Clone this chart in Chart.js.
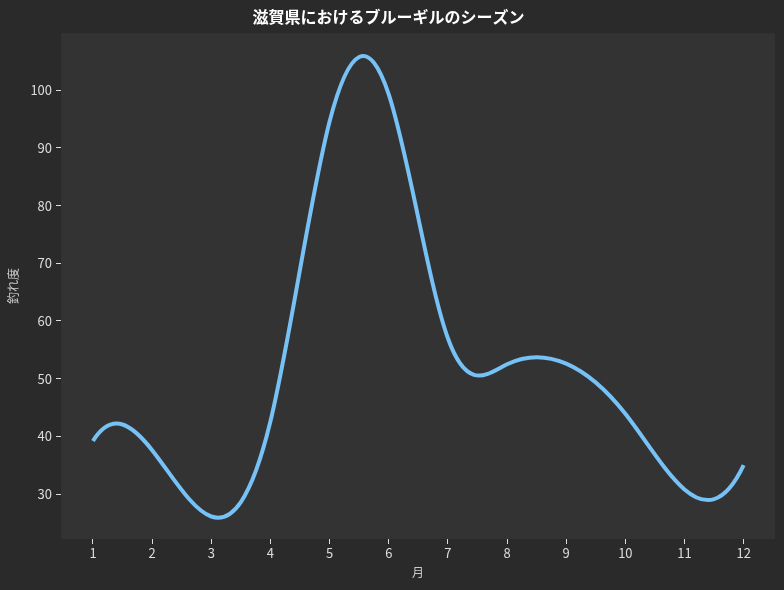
<!DOCTYPE html>
<html>
<head>
<meta charset="utf-8">
<script src="https://cdn.jsdelivr.net/npm/chart.js@4.4.1/dist/chart.umd.min.js"></script>
<style>
  html, body { margin: 0; padding: 0; background: #2a2a2a; }
  #wrap { width: 784px; height: 590px; }
</style>
</head>
<body>
<div id="wrap"><canvas id="chart"></canvas></div>
<script>
// data
var months = [1, 2, 3, 4, 5, 6, 7, 8, 9, 10, 11, 12];
var catchScore = [39.2, 37.6, 26.1, 42.6, 94.6, 99.3, 57.0, 52.5, 52.6, 43.9, 30.8, 35.0];
var yTicks = [30, 40, 50, 60, 70, 80, 90, 100];

var fontFamily = "'Liberation Sans Narrow', 'Noto Sans CJK JP', sans-serif";

// slopes of a not-a-knot cubic spline through the points (unit spacing)
function splineSlopes(y) {
    var n = y.length;
    var A = [], b = [];
    for (var i = 0; i < n; i++) {
        A.push(new Array(n).fill(0));
        b.push(0);
    }
    A[0][0] = 1; A[0][1] = -2; A[0][2] = 1;
    for (var i = 1; i < n - 1; i++) {
        A[i][i - 1] = 1; A[i][i] = 4; A[i][i + 1] = 1;
        b[i] = 6 * (y[i + 1] - 2 * y[i] + y[i - 1]);
    }
    A[n - 1][n - 3] = 1; A[n - 1][n - 2] = -2; A[n - 1][n - 1] = 1;
    // gaussian elimination
    for (var c = 0; c < n; c++) {
        var p = c;
        for (var r = c + 1; r < n; r++) if (Math.abs(A[r][c]) > Math.abs(A[p][c])) p = r;
        var t = A[c]; A[c] = A[p]; A[p] = t;
        var tb = b[c]; b[c] = b[p]; b[p] = tb;
        for (var r = c + 1; r < n; r++) {
            var f = A[r][c] / A[c][c];
            for (var k = c; k < n; k++) A[r][k] -= f * A[c][k];
            b[r] -= f * b[c];
        }
    }
    var M = new Array(n).fill(0);
    for (var r = n - 1; r >= 0; r--) {
        var s = b[r];
        for (var k = r + 1; k < n; k++) s -= A[r][k] * M[k];
        M[r] = s / A[r][r];
    }
    var m = [];
    for (var i = 0; i < n - 1; i++) m.push((y[i + 1] - y[i]) - (2 * M[i] + M[i + 1]) / 6);
    m.push((y[n - 1] - y[n - 2]) + (M[n - 2] + 2 * M[n - 1]) / 6);
    return m;
}

var slopes = splineSlopes(catchScore);

var splinePlugin = {
    id: 'splinePlugin',
    beforeDatasetDraw: function (chart, args) {
        var meta = args.meta;
        var line = meta.dataset;
        line.updateControlPoints(chart.chartArea, 'x');
        var xs = chart.scales.x, ys = chart.scales.y;
        meta.data.forEach(function (pt, i) {
            var x = months[i], y = catchScore[i], m = slopes[i];
            pt.cp1x = xs.getPixelForValue(x - 1 / 3);
            pt.cp1y = ys.getPixelForValue(y - m / 3);
            pt.cp2x = xs.getPixelForValue(x + 1 / 3);
            pt.cp2y = ys.getPixelForValue(y + m / 3);
        });
        line._path = undefined;
    }
};

var bgPlugin = {
    id: 'bgPlugin',
    beforeDraw: function (chart) {
        var c = chart.ctx, a = chart.chartArea;
        c.save();
        c.fillStyle = '#2a2a2a';
        c.fillRect(0, 0, chart.width, chart.height);
        c.fillStyle = '#333333';
        c.fillRect(a.left, a.top, a.right - a.left, a.bottom - a.top);
        c.restore();
    }
};

var ctx = document.getElementById('chart');
var myChart = new Chart(ctx, {
    type: 'line',
    data: {
        datasets: [{
            label: '釣れ度',
            data: months.map(function (m, i) { return { x: m, y: catchScore[i] }; }),
            borderColor: '#76c1f5',
            borderWidth: 4,
            tension: 0.4,
            pointRadius: 0,
            fill: false
        }]
    },
    options: {
        responsive: true,
        maintainAspectRatio: false,
        animation: false,
        layout: { padding: { left: 2, right: 9, top: 2, bottom: 6 } },
        plugins: {
            legend: { display: false },
            tooltip: { enabled: false },
            title: {
                display: true,
                text: '滋賀県におけるブルーギルのシーズン',
                color: '#ffffff',
                font: { family: fontFamily, size: 16, weight: 'bold' },
                padding: { top: 5, bottom: 7 }
            }
        },
        scales: {
            x: {
                type: 'linear',
                min: 0.46,
                max: 12.53,
                afterBuildTicks: function (s) { s.ticks = months.map(function (v) { return { value: v }; }); },
                ticks: { color: '#dddddd', font: { family: fontFamily, size: 13 }, padding: 1, maxRotation: 0 },
                grid: { drawOnChartArea: false, drawTicks: true, tickLength: 5, tickColor: '#dddddd', tickWidth: 1 },
                border: { display: false },
                title: { display: true, text: '月', color: '#cccccc', font: { family: fontFamily, size: 12 }, padding: { top: 4 } }
            },
            y: {
                type: 'linear',
                min: 22.2,
                max: 109.9,
                afterBuildTicks: function (s) { s.ticks = yTicks.map(function (v) { return { value: v }; }); },
                ticks: { color: '#dddddd', font: { family: fontFamily, size: 13 }, padding: 4 },
                grid: { drawOnChartArea: false, drawTicks: true, tickLength: 5, tickColor: '#dddddd', tickWidth: 1 },
                border: { display: false },
                title: { display: true, text: '釣れ度', color: '#cccccc', font: { family: fontFamily, size: 12 }, padding: { bottom: 6 } }
            }
        }
    },
    plugins: [bgPlugin, splinePlugin]
});
</script>
</body>
</html>
